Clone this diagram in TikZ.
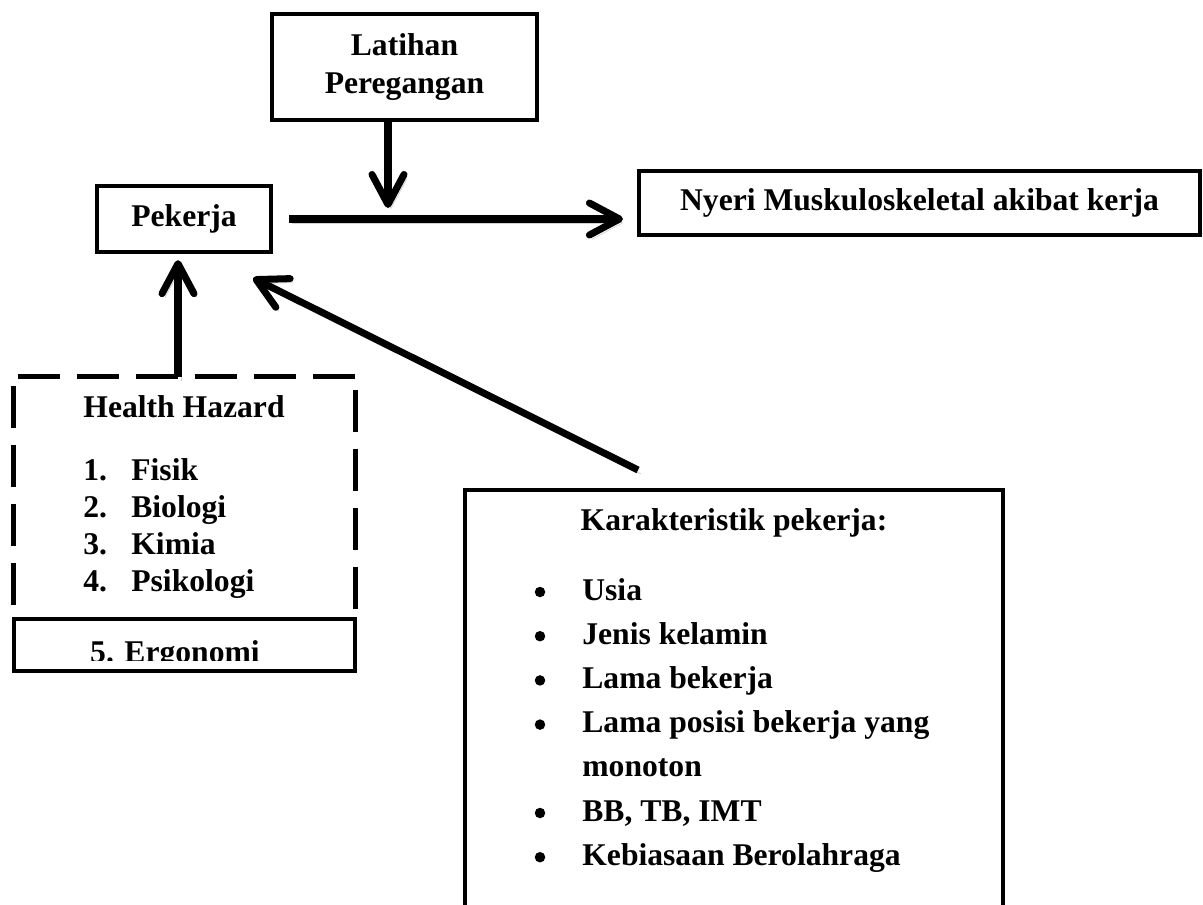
\documentclass[tikz,border=0pt]{standalone}
\usepackage{fontspec}
\setmainfont{Liberation Serif}
\usetikzlibrary{arrows.meta}

\begin{document}
\begin{tikzpicture}[x=0.02cm, y=-0.02cm,
        every node/.style={font=\fontsize{18}{21.5}\selectfont\bfseries},
        box/.style={draw, line width=2.4pt, inner sep=0pt, align=center},
        txt/.style={inner sep=0pt},
        dashline/.style={line width=2.5pt, dash pattern=on 0.84cm off 0.34cm},
        arr/.style={line width=4pt,
            preaction={draw=black!18, transform canvas={shift={(0.06cm,-0.08cm)}}},
            -{Straight Barb[length=0.6cm, width=0.64cm, line cap=round, line join=round]}}]
    \useasboundingbox (0,0) rectangle (1203,904);
    \clip (0,0) rectangle (1203,904);

    % top row
    \node[box, minimum width=5.3cm, minimum height=2.12cm] (latihan) at (404.5,67) {Latihan\\Peregangan};
    \node[box, minimum width=3.48cm, minimum height=1.32cm] (pekerja) at (184,219) {Pekerja};
    \node[box, minimum width=11.22cm, minimum height=1.28cm] (nyeri) at (919.5,203) {Nyeri Muskuloskeletal akibat kerja};

    % health hazard
    \node[minimum width=6.82cm, minimum height=4.8cm, inner sep=0pt] (hazard) at (184.5,497) {};
    \draw[dashline, dash phase=1.1cm] (hazard.north west) -- (hazard.north east);
    \draw[dashline, dash phase=1.0cm] (hazard.north west) -- (hazard.south west);
    \draw[dashline, dash phase=0.92cm] (hazard.north east) -- (hazard.south east);
    \node[txt, anchor=base] (hazardtitle) at (184,417) {Health Hazard};
    \foreach \t [count=\i] in {Fisik, Biologi, Kimia, Psikologi} {
        \node[txt, anchor=base west] (num\i) at (83,{443+37*\i}) {\i.};
        \node[txt, anchor=base west] (haz\i) at (131,{443+37*\i}) {\t};
    }
    \node[box, fill=white, minimum width=6.82cm, minimum height=1.04cm] (ergo) at (184.5,645) {};
    \begin{scope}
        \clip (14,619) rectangle (355,660);
        \node[txt, anchor=base] (ergotext) at (175,662) {5. Ergonomi};
    \end{scope}

    % karakteristik
    \node[box, minimum width=10.76cm, minimum height=9cm] (karakter) at (734,715) {};
    \node[txt, anchor=base] (karaktertitle) at (734,530) {Karakteristik pekerja:};
    \foreach \t [count=\i] in {Usia, Jenis kelamin, Lama bekerja, Lama posisi bekerja yang,
            monoton, {BB, TB, IMT}, Kebiasaan Berolahraga} {
        \node[txt, anchor=base west] (item\i) at (582,{555.8+44.2*\i}) {\t};
        \ifnum\i=5\else
            \fill (540,{547.8+44.2*\i}) circle[radius=0.105cm];
        \fi
    }

    % arrows
    \coordinate (meet) at (388,208);
    \coordinate (hz) at (178,377);
    \coordinate (kt) at (638,470);
    \coordinate (pk) at (253,278);
    \draw[arr] (latihan.south -| meet) -- (meet);
    \draw[arr] ([xshift=0.32cm]pekerja.east) -- ([xshift=-0.28cm]pekerja.east -| nyeri.west);
    \draw[arr] (hz) -- ([yshift=-0.12cm]hz |- pekerja.south);
    \draw[arr] (kt) -- (pk);
\end{tikzpicture}
\end{document}
